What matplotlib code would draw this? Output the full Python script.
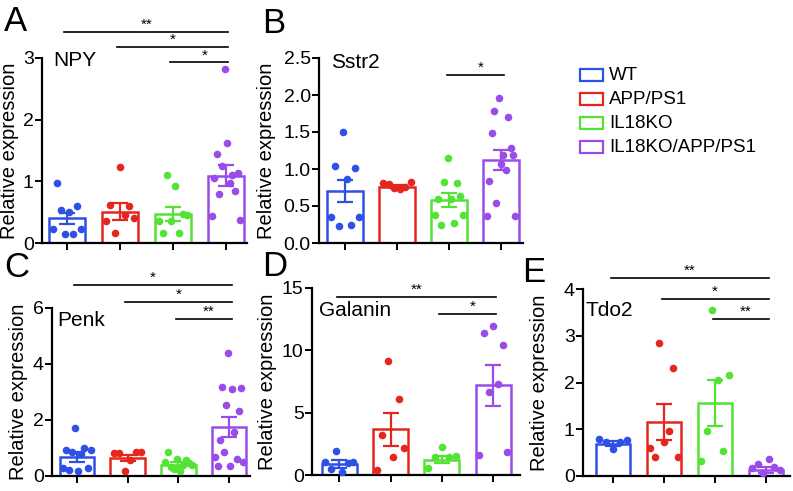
import numpy as np
import matplotlib
matplotlib.use("Agg")
import matplotlib.pyplot as plt
from matplotlib.patches import Rectangle
from matplotlib.transforms import blended_transform_factory

plt.rcParams['font.family'] = ['Liberation Sans', 'DejaVu Sans']

W, H = 793, 491

groups = ["WT", "APP/PS1", "IL18KO", "IL18KO/APP/PS1"]
colors = ["#2F50E4", "#E5261E", "#52E334", "#9A4CE8"]

# ---- panel A: NPY
npy_pts = [
    [0.23, 0.98, 0.54, 0.15, 0.50, 0.15, 0.60, 0.22],
    [0.35, 0.62, 0.16, 1.23, 0.45, 0.60, 0.40],
    [0.36, 0.16, 1.11, 0.35, 0.92, 0.16, 0.47, 0.45],
    [0.43, 1.05, 1.45, 0.80, 1.25, 2.82, 1.62, 0.97, 1.10, 0.85, 1.13, 0.38],
]
npy_mean = [0.40, 0.51, 0.47, 1.09]
npy_sem = [0.09, 0.14, 0.12, 0.17]

# ---- panel B: Sstr2
sstr2_pts = [
    [0.35, 1.04, 0.23, 1.50, 0.87, 0.24, 1.02, 0.35],
    [0.81, 0.80, 0.75, 0.73, 0.76, 0.82],
    [0.38, 0.60, 0.24, 0.83, 1.15, 0.59, 0.27, 0.81, 0.63, 0.38],
    [0.37, 0.84, 1.48, 1.79, 0.54, 1.96, 1.07, 1.19, 0.98, 1.70, 1.29, 1.19, 0.37],
]
sstr2_mean = [0.70, 0.76, 0.58, 1.12]
sstr2_sem = [0.15, 0.02, 0.09, 0.14]

# ---- panel C: Penk
penk_pts = [
    [0.27, 0.94, 0.21, 0.85, 1.71, 0.18, 0.78, 0.99, 0.27, 0.92],
    [0.83, 0.81, 0.18, 0.56, 0.85, 0.85],
    [0.51, 0.86, 0.31, 0.24, 0.62, 0.18, 0.40, 0.56, 0.45, 0.38],
    [0.69, 0.37, 1.27, 3.19, 0.86, 2.54, 4.38, 0.35, 3.10, 1.57, 0.59, 2.32, 3.14, 0.51],
]
penk_mean = [0.67, 0.64, 0.40, 1.74]
penk_sem = [0.17, 0.11, 0.09, 0.36]

# ---- panel D: Galanin
galanin_pts = [
    [1.02, 0.48, 1.91, 0.27, 0.94, 1.08],
    [0.40, 3.23, 9.14, 1.48, 6.08, 2.15],
    [0.56, 1.48, 2.28, 1.42, 1.56],
    [1.64, 11.37, 6.67, 11.96, 7.29, 10.43, 1.83],
]
galanin_mean = [0.89, 3.66, 1.24, 7.18]
galanin_sem = [0.30, 1.35, 0.30, 1.65]

# ---- panel E: Tdo2
tdo2_pts = [
    [0.79, 0.72, 0.57, 0.72, 0.78],
    [0.59, 0.40, 2.85, 0.72, 0.97, 2.30, 0.40],
    [0.32, 0.97, 3.56, 2.05, 0.54, 2.15],
    [0.17, 0.25, 0.07, 0.37, 0.20, 0.13],
]
tdo2_mean = [0.69, 1.15, 1.56, 0.13]
tdo2_sem = [0.05, 0.38, 0.50, 0.06]

# significance: (from group, to group, y, label)
npy_sig = [(0, 3, 3.42, "**"), (1, 3, 3.18, "*"), (2, 3, 2.93, "*")]
sstr2_sig = [(2, 3, 2.27, "*")]
penk_sig = [(0, 3, 6.82, "*"), (1, 3, 6.21, "*"), (2, 3, 5.61, "**")]
galanin_sig = [(0, 3, 14.3, "**"), (2, 3, 12.9, "*")]
tdo2_sig = [(0, 3, 4.24, "**"), (1, 3, 3.79, "*"), (2, 3, 3.36, "**")]


def fig_rect(left, top, right, bottom):
    return [left / W, 1 - bottom / H, (right - left) / W, (bottom - top) / H]


def draw_panel(rect, pts, means, sems, sig, ylim, yticks, yticklabels, xlim,
               gene, gene_xy, letter, letter_xy, ylab_x):
    ax = fig.add_axes(rect)
    x = np.arange(4)
    for i in range(4):
        ax.bar(x[i], means[i], width=0.68, facecolor="white", edgecolor=colors[i], linewidth=1.8, zorder=2)
        ax.errorbar(x[i], means[i], yerr=sems[i], color=colors[i], capsize=6, capthick=1.6,
                    elinewidth=1.6, zorder=4)
        n = len(pts[i])
        offs = np.linspace(-0.27, 0.27, n)
        ax.scatter(x[i] + offs, pts[i], s=30, color=colors[i], zorder=3, linewidths=0, clip_on=False)
    for a, b, y, lab in sig:
        ax.plot([a - 0.05, b + 0.05], [y, y], color="black", lw=1.2, clip_on=False)
        ax.text((a + b) / 2 + 0.1 * (b - a == 1), y, lab, ha="center", va="bottom", fontsize=11, clip_on=False)
    ax.set_xlim(*xlim)
    ax.set_ylim(*ylim)
    ax.set_yticks(yticks)
    ax.set_yticklabels(yticklabels)
    ax.set_xticks(x)
    ax.set_xticklabels([])
    for s in ["top", "right"]:
        ax.spines[s].set_visible(False)
    for s in ["left", "bottom"]:
        ax.spines[s].set_linewidth(1.6)
    ax.tick_params(axis="both", direction="out", length=5, width=1.4, labelsize=14, pad=1)
    fig.text(gene_xy[0] / W, 1 - gene_xy[1] / H, gene, fontsize=15, ha="left", va="center")
    fig.text(letter_xy[0] / W, 1 - letter_xy[1] / H, letter, fontsize=25, ha="left", va="baseline")
    ax.set_ylabel("Relative expression", fontsize=14.5)
    ax.yaxis.set_label_coords(ylab_x / W, 0.5,
                              transform=blended_transform_factory(fig.transFigure, ax.transAxes))
    return ax


fig = plt.figure(figsize=(W / 100, H / 100), dpi=100)

draw_panel(fig_rect(42, 58, 247, 243), npy_pts, npy_mean, npy_sem, npy_sig,
           (0, 3), [0, 1, 2, 3], ["0", "1", "2", "3"], (-0.47, 3.4),
           "NPY", (53, 61), "A", (4, 31), 19)
draw_panel(fig_rect(319, 58, 523, 243), sstr2_pts, sstr2_mean, sstr2_sem, sstr2_sig,
           (0, 2.5), [0, 0.5, 1.0, 1.5, 2.0, 2.5], ["0.0", "0.5", "1.0", "1.5", "2.0", "2.5"], (-0.5, 3.42),
           "Sstr2", (331, 63), "B", (262, 33), 276)
draw_panel(fig_rect(52, 308, 250, 476), penk_pts, penk_mean, penk_sem, penk_sig,
           (0, 6), [0, 2, 4, 6], ["0", "2", "4", "6"], (-0.49, 3.41),
           "Penk", (57, 321), "C", (4, 277), 28)
draw_panel(fig_rect(312, 288, 520, 475), galanin_pts, galanin_mean, galanin_sem, galanin_sig,
           (0, 15), [0, 5, 10, 15], ["0", "5", "10", "15"], (-0.53, 3.52),
           "Galanin", (319, 311), "D", (262, 276), 277)
draw_panel(fig_rect(583, 289, 790, 476), tdo2_pts, tdo2_mean, tdo2_sem, tdo2_sig,
           (0, 4), [0, 1, 2, 3, 4], ["0", "1", "2", "3", "4"], (-0.59, 3.47),
           "Tdo2", (585, 310), "E", (522, 282), 549)

# legend
for i, g in enumerate(groups):
    yc = 75 + i * 24
    fig.patches.append(Rectangle((580 / W, 1 - (yc + 6) / H), 23 / W, 12 / H, transform=fig.transFigure,
                                 facecolor="white", edgecolor=colors[i], linewidth=1.6))
    fig.text(609 / W, 1 - yc / H, g, fontsize=13.5, ha="left", va="center")

fig.savefig("out.png", dpi=100)
